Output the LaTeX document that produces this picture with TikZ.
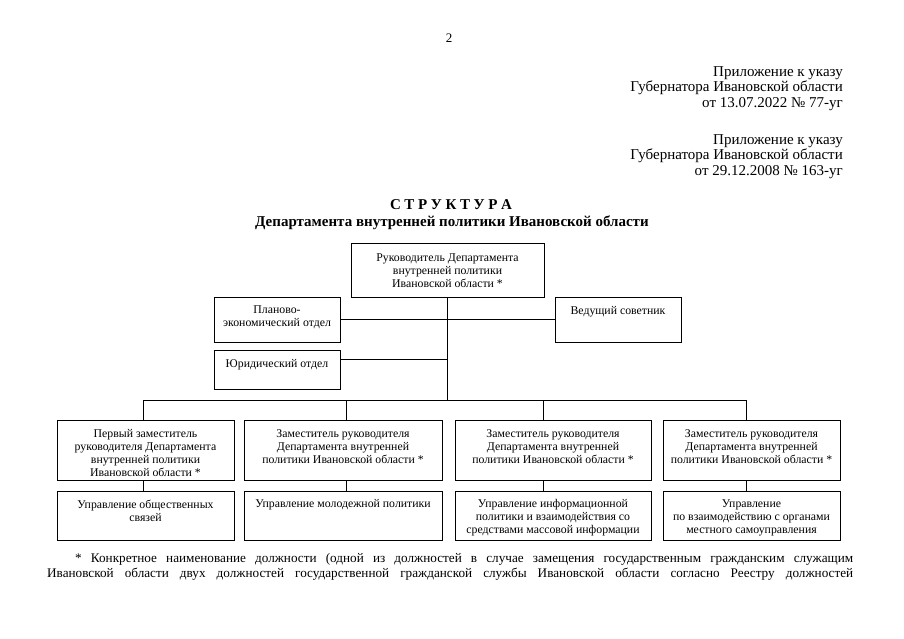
\documentclass[tikz,border=0pt]{standalone}
\usepackage{fontspec}
\setmainfont{Liberation Serif}
\usetikzlibrary{fit,calc}
\begin{document}
\begin{tikzpicture}[x=1pt,y=-1pt,
  box/.style={draw, line width=0.9pt, inner sep=0pt},
  btxt/.style={font=\fontsize{11.8}{13}\selectfont, align=center, anchor=north, inner sep=0pt},
  hdr/.style={font=\fontsize{15}{15.5}\selectfont, align=right, anchor=north east, inner sep=0pt},
  foot/.style={font=\fontsize{13.2}{15}\selectfont, anchor=base west, inner sep=0pt},
  conn/.style={line width=0.9pt}]
\useasboundingbox (0,0) rectangle (904,639);
\fill[white] (0,0) rectangle (904,639);

\node[font=\fontsize{13}{15}\selectfont, inner sep=0pt] (pnum) at (449,38) {2};

\node[hdr] (hdr1) at (843,66) {Приложение к указу\\Губернатора Ивановской области\\от 13.07.2022 № 77-уг};
\node[hdr] (hdr2) at (843,134) {Приложение к указу\\Губернатора Ивановской области\\от 29.12.2008 № 163-уг};

\node[font=\fontsize{15}{15}\bfseries\selectfont, inner sep=0pt] (title) at (451,205) {\makebox[122pt][s]{С Т Р У К Т У Р А}};
\node[font=\fontsize{15}{15}\bfseries\selectfont, inner sep=0pt] (subtitle) at (452,223) {Департамента внутренней политики Ивановской области};

% boxes
\newcommand{\mybox}[7]{%
  \node[box, fit={(#2,#3) (#4,#5)}] (#1) {};
  \node[btxt] (#1t) at ([yshift=-#6pt]#1.north) {#7};}

\mybox{top}{351}{243}{544}{297}{11.5}{Руководитель Департамента\\внутренней политики\\Ивановской области *}
\mybox{plan}{214}{297}{340}{342}{9}{Планово-\\экономический отдел}
\mybox{ved}{555}{297}{681}{342}{9.5}{Ведущий советник}
\mybox{yur}{214}{350}{340}{389}{9.5}{Юридический отдел}

\mybox{d1}{57}{420}{234}{480}{9.5}{Первый заместитель\\руководителя Департамента\\внутренней политики\\Ивановской области *}
\mybox{d2}{244}{420}{442}{480}{9.5}{Заместитель руководителя\\Департамента внутренней\\политики Ивановской области *}
\mybox{d3}{455}{420}{651}{480}{9.5}{Заместитель руководителя\\Департамента внутренней\\политики Ивановской области *}
\mybox{d4}{663}{420}{840}{480}{9.5}{Заместитель руководителя\\Департамента внутренней\\политики Ивановской области *}

\mybox{u1}{57}{491}{234}{540}{9}{Управление общественных\\связей}
\mybox{u2}{244}{491}{442}{540}{9}{Управление молодежной политики}
\mybox{u3}{455}{491}{651}{540}{9}{Управление информационной\\политики и взаимодействия со\\средствами массовой информации}
\mybox{u4}{663}{491}{840}{540}{9}{Управление\\по взаимодействию с органами\\местного самоуправления}

% connectors
\coordinate (hub) at (447,400);
\coordinate (b1) at (143,400);
\coordinate (b2) at (346,400);
\coordinate (b3) at (543,400);
\coordinate (b4) at (746,400);
\coordinate (yj) at ($(yur.north east)+(0,10)$);

\draw[conn] (hub |- top.south) -- (hub);
\draw[conn] (plan.east) -- (ved.west);
\draw[conn] (yj) -- (yj -| hub);
\draw[conn] (b1) -- (b4);
\foreach \i in {1,2,3,4}{
  \draw[conn] (b\i) -- (b\i |- d\i.north);
  \draw[conn] (b\i |- d\i.south) -- (b\i |- u\i.north);
}

% footnote
\node[foot] (f1) at (75,562) {\makebox[778pt][s]{* Конкретное наименование должности (одной из должностей в случае замещения государственным гражданским служащим}};
\node[foot] (f2) at (47,577) {\makebox[806pt][s]{Ивановской области двух должностей государственной гражданской службы Ивановской области согласно Реестру должностей}};
\end{tikzpicture}
\end{document}
